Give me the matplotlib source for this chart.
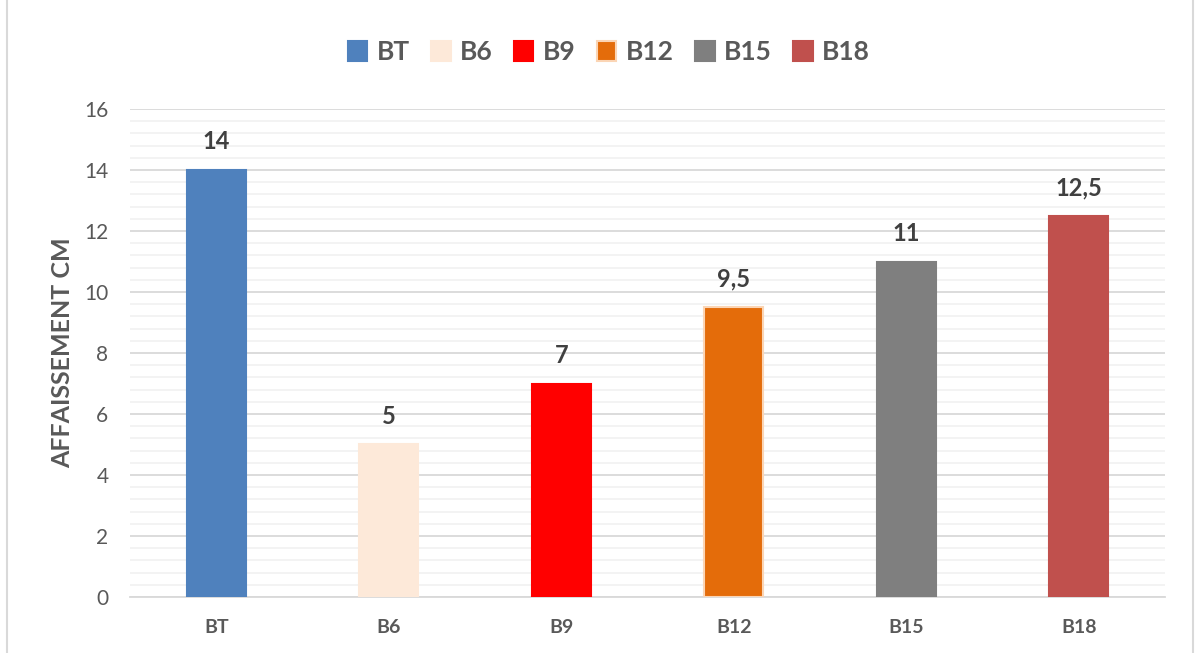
import numpy as np
import matplotlib.pyplot as plt
from matplotlib.ticker import MultipleLocator
from matplotlib.patches import Rectangle

# data
categories = ["BT", "B6", "B9", "B12", "B15", "B18"]
values = [14, 5, 7, 9.5, 11, 12.5]
labels = ["14", "5", "7", "9,5", "11", "12,5"]
colors = ["#4F81BD", "#FDE9D9", "#FF0000", "#E46C0A", "#7F7F7F", "#C0504D"]

plt.rcParams['font.family'] = ['Lato', 'DejaVu Sans']

fig = plt.figure(figsize=(11.98, 6.53), dpi=100)
ax = fig.add_axes([0.1085, 0.0858, 0.864, 0.7472])

x = np.arange(len(categories))
for i in range(len(categories)):
    edge = "#FBD5B5" if categories[i] == "B12" else colors[i]
    ax.bar(x[i], values[i], width=0.34, color=colors[i], edgecolor=edge,
           linewidth=1.5, label=categories[i], zorder=3)
    ax.text(x[i], values[i] + 0.55, labels[i], ha="center", va="bottom",
            fontsize=17, fontweight="bold", color="#404040")

ax.set_xlim(-0.5, len(categories) - 0.5)
ax.set_ylim(0, 16)
ax.yaxis.set_major_locator(MultipleLocator(2))
ax.yaxis.set_minor_locator(MultipleLocator(0.4))
ax.grid(which="major", axis="y", color="#D9D9D9", linewidth=1.3, zorder=0)
ax.grid(which="minor", axis="y", color="#F2F2F2", linewidth=1.3, zorder=0)
ax.tick_params(axis="both", which="both", length=0)
ax.tick_params(axis="y", labelsize=15, labelcolor="#595959", pad=15.5)
ax.tick_params(axis="x", labelsize=14, labelcolor="#595959", pad=16)
ax.set_xticks(x)
ax.set_xticklabels(categories, fontweight="bold")
for s in ["top", "right", "left"]:
    ax.spines[s].set_visible(False)
ax.spines["bottom"].set_color("#D9D9D9")
ax.spines["bottom"].set_linewidth(1.3)

ax.set_ylabel("AFFAISSEMENT CM", fontsize=18, fontweight="bold", color="#595959")
ax.yaxis.set_label_coords(-0.054, 0.5)

leg = fig.legend(loc="center", bbox_to_anchor=(0.508, 0.92), ncol=6, frameon=False,
                 fontsize=19, handlelength=0.75, handleheight=0.75, handletextpad=0.35,
                 columnspacing=0.8)
for t in leg.get_texts():
    t.set_fontweight("bold")
    t.set_color("#595959")

# chart frame
fig.patches.append(Rectangle((0.006, -0.01), 0.99, 1.2, transform=fig.transFigure,
                             fill=False, edgecolor="#D9D9D9", linewidth=1.5))

fig.savefig("out.png", dpi=100)
